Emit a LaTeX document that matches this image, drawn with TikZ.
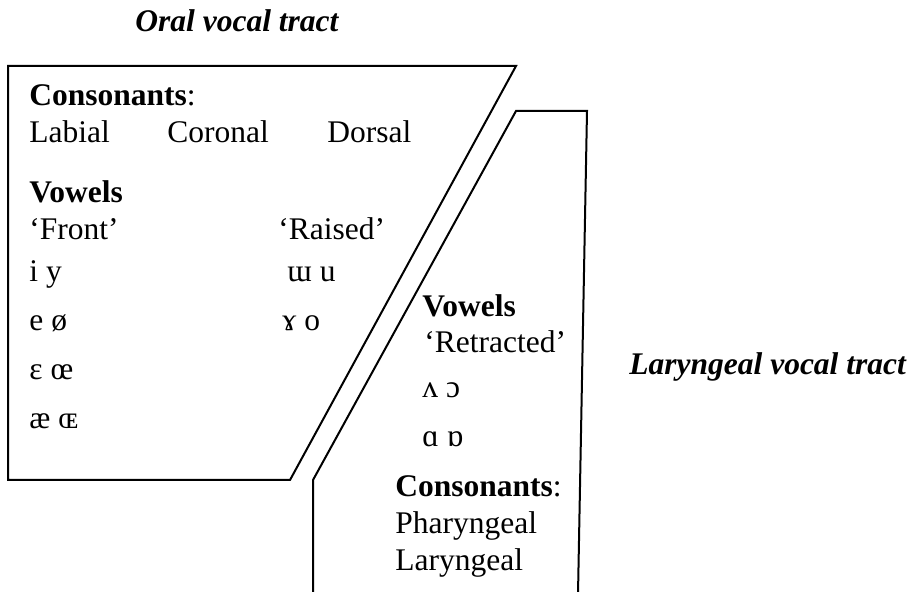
\documentclass[tikz,border=0pt]{standalone}
\usepackage{fontspec}
\setmainfont{Liberation Serif}
\begin{document}
\begin{tikzpicture}[x=0.5pt,y=-0.5pt,
  txt/.style={inner sep=0pt, anchor=base west, font=\fontsize{15.75pt}{18pt}\selectfont},
  ttl/.style={txt, font=\fontsize{15.75pt}{18pt}\selectfont\bfseries\itshape},
  outline/.style={line width=1pt, line join=miter}]
\useasboundingbox (0,0) rectangle (915,592);
% shapes
\draw[outline] (8,66) -- (516,66) -- (290,480) -- (8,480) -- cycle;
\draw[outline] (313,594) -- (313,480) -- (516,111) -- (587,111) -- (578,594);
% titles
\node[ttl] (oral) at (135,32) {Oral vocal tract};
\node[ttl] (lar) at (629,375) {Laryngeal vocal tract};
% oral tract contents
\node[txt] (cons1) at (29,106) {\textbf{Consonants}:};
\node[txt] (lab) at (29,143) {Labial};
\node[txt] (cor) at (167,143) {Coronal};
\node[txt] (dor) at (327,143) {Dorsal};
\node[txt] (vow1) at (29,203) {\textbf{Vowels}};
\node[txt] (front) at (29,240) {‘Front’};
\node[txt] (raised) at (278,240) {‘Raised’};
\node[txt] (iy) at (29,282) {i y};
\node[txt] (wu) at (287,282) {ɯ u};
\node[txt] (eo) at (29,331) {e ø};
\node[txt] (go) at (282,331) {ɤ o};
\node[txt] (ee) at (29,380) {ɛ œ};
\node[txt] (ae) at (29,429) {æ ɶ};
% laryngeal tract contents
\node[txt] (vow2) at (422,317) {\textbf{Vowels}};
\node[txt] (retr) at (424,353) {‘Retracted’};
\node[txt] (vc) at (422,398) {ʌ ɔ};
\node[txt] (ab) at (422,447) {ɑ ɒ};
\node[txt] (cons2) at (395,497) {\textbf{Consonants}:};
\node[txt] (phar) at (395,533) {Pharyngeal};
\node[txt] (laryn) at (395,570) {Laryngeal};
\end{tikzpicture}
\end{document}
